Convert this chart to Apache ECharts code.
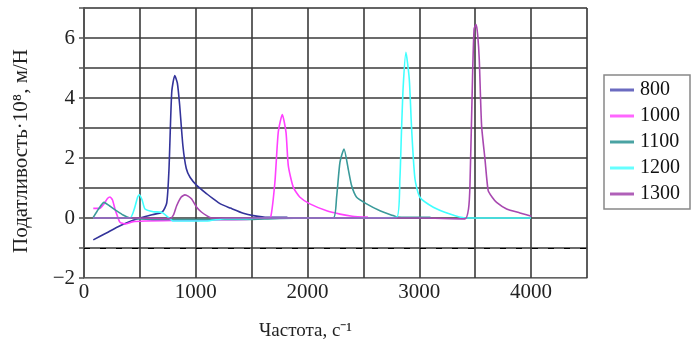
<!DOCTYPE html>
<html>
<head>
<meta charset="utf-8">
<script src="https://cdn.jsdelivr.net/npm/echarts@6/dist/echarts.min.js"></script>
<style>html,body{margin:0;padding:0;background:#fff}#c{width:695px;height:349px}</style>
</head>
<body>
<div id="c"></div>
<script>
const seriesNames = ['800', '1000', '1100', '1200', '1300'];
const xTicks = [0, 1000, 2000, 3000, 4000];
const yTicks = [-2, 0, 2, 4, 6];

const s800 = [[83,-0.73],[200,-0.5],[300,-0.3],[411,-0.12],[500,0.0],[600,0.1],[700,0.2],[740,0.5],[760,1.6],[785,4.2],[812,4.75],[835,4.5],[855,3.8],[885,2.4],[915,1.65],[950,1.35],[1010,1.08],[1100,0.8],[1160,0.63],[1220,0.47],[1310,0.33],[1425,0.16],[1515,0.08],[1640,0.02],[1820,0.02]];
const s1000 = [[83,0.32],[140,0.32],[175,0.45],[210,0.65],[233,0.7],[255,0.6],[277,0.3],[300,0.05],[322,-0.14],[367,-0.2],[441,-0.12],[550,-0.1],[800,-0.08],[1000,-0.08],[1200,-0.06],[1450,-0.05],[1640,0.0],[1670,0.02],[1708,1.2],[1738,2.86],[1774,3.45],[1807,2.86],[1828,1.74],[1873,1.02],[1932,0.69],[2021,0.47],[2171,0.24],[2290,0.13],[2400,0.06],[2540,0.03]];
const s1100 = [[83,0.02],[130,0.3],[179,0.52],[230,0.4],[292,0.24],[350,0.1],[411,0.0],[500,-0.03],[700,-0.05],[1000,-0.05],[1250,-0.05],[1450,-0.05],[1700,-0.02],[2000,0.0],[2230,0.0],[2260,0.7],[2290,1.86],[2326,2.3],[2364,1.63],[2394,1.08],[2439,0.69],[2528,0.47],[2648,0.24],[2767,0.08],[2800,0.03],[3100,0.02]];
const s1200 = [[83,0.0],[411,0.0],[450,0.3],[480,0.7],[495,0.77],[520,0.6],[546,0.3],[620,0.21],[695,0.19],[754,0.02],[800,-0.1],[1000,-0.1],[1127,-0.09],[1261,-0.02],[1455,-0.02],[1600,0.0],[2000,0.0],[2400,0.0],[2797,0.02],[2826,1.3],[2841,2.97],[2856,4.41],[2880,5.52],[2910,4.63],[2931,2.97],[2961,1.3],[3005,0.69],[3125,0.36],[3274,0.13],[3408,0.0],[3700,0.0],[4000,0.0]];
const s1300 = [[83,0],[500,0],[769,-0.02],[800,0.1],[829,0.41],[870,0.7],[903,0.77],[935,0.72],[963,0.63],[1008,0.36],[1050,0.2],[1097,0.08],[1142,0],[2000,0],[3000,0],[3408,-0.03],[3440,0.3],[3453,1.1],[3476,4.7],[3490,6.3],[3508,6.45],[3522,6.1],[3536,5.3],[3557,3.08],[3587,1.97],[3616,0.91],[3650,0.7],[3691,0.52],[3781,0.3],[3900,0.17],[4004,0.06]];

const seriesData = [s800, s1000, s1100, s1200, s1300];
const colors = ['#33339a', '#ff40ff', '#3a9a9a', '#40ffff', '#a848b0'];
const legendColors = ['#6b6bc0', '#ff66ff', '#4aa3a3', '#66ffff', '#b060b8'];

const font = 'Liberation Serif';
const chart = echarts.init(document.getElementById('c'));
chart.setOption({
  animation: false,
  backgroundColor: '#fff',
  grid: { left: 84, right: 108, top: 8, bottom: 71, show: true, borderColor: '#c8c8c8', borderWidth: 1 },
  legend: {
    orient: 'vertical', left: 604, top: 75,
    data: seriesNames,
    icon: 'rect',
    itemWidth: 24, itemHeight: 3, itemGap: 6,
    borderColor: '#888', borderWidth: 1.5, padding: [5, 10, 5, 6],
    textStyle: { fontFamily: font, fontSize: 20, color: '#111', padding: [0, 0, 0, 1] }
  },
  xAxis: {
    type: 'value', min: 0, max: 4500, interval: 500,
    name: 'Частота, с⁻¹', nameLocation: 'middle', nameGap: 44,
    nameTextStyle: { fontFamily: font, fontSize: 19, color: '#222', padding: [0, 60, 0, 0] },
    axisLine: { show: true, onZero: false, lineStyle: { color: '#999', width: 1 } },
    axisTick: { show: false },
    axisLabel: { fontFamily: font, fontSize: 21, color: '#222', margin: 4,
      formatter: v => xTicks.indexOf(v) >= 0 ? String(v) : '' },
    splitLine: { show: true, lineStyle: { color: '#3a3a3a', width: 1.6 } }
  },
  yAxis: {
    type: 'value', min: -2, max: 7, interval: 1,
    name: 'Податливость·10⁸, м/Н', nameLocation: 'middle', nameGap: 52,
    nameTextStyle: { fontFamily: font, fontSize: 21, color: '#222', padding: [0, 16, 0, 0] },
    axisLine: { show: true, onZero: false, lineStyle: { color: '#555', width: 2 } },
    axisTick: { show: true, length: 5, lineStyle: { color: '#555', width: 1.5 } },
    axisLabel: { fontFamily: font, fontSize: 21, color: '#222', margin: 9,
      formatter: v => yTicks.indexOf(v) >= 0 ? (v < 0 ? '\u2212' + Math.abs(v) : String(v)) : '' },
    splitLine: { show: true, lineStyle: { color: '#3a3a3a', width: 1.6 } }
  },
  series: seriesNames.map((n, i) => ({
    name: n, type: 'line', data: seriesData[i], symbol: 'none', smooth: 0.2,
    lineStyle: { color: colors[i], width: 1.6 },
    itemStyle: { color: legendColors[i] },
    markLine: i === 0 ? { silent: true, symbol: 'none', label: { show: false },
      lineStyle: { color: '#000', type: [6, 10], width: 1.2 }, data: [{ yAxis: -1 }] } : undefined
  }))
});
</script>
</body>
</html>
